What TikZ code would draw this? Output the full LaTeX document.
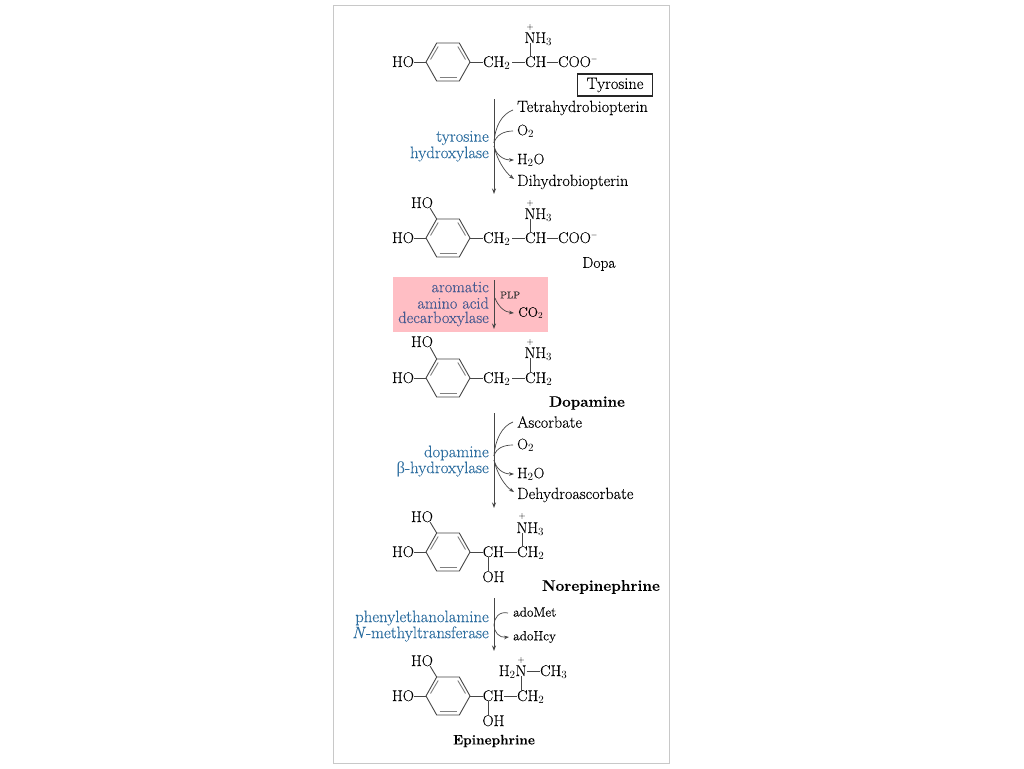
\documentclass[tikz,border=0pt]{standalone}
\usepackage{fontspec}
\setmainfont{Latin Modern Roman}[FakeBold=0.2]
\usetikzlibrary{arrows.meta}
\newfontfamily\grkfont{Liberation Serif}
\definecolor{enzblue}{RGB}{45,110,160}
\definecolor{enzpink}{RGB}{70,90,145}
\definecolor{pinkbg}{RGB}{255,190,196}
\definecolor{framegray}{RGB}{200,200,200}
\definecolor{bondgray}{RGB}{70,70,70}
\newcommand{\fsz}[1]{\fontsize{#1}{#1}\selectfont}
\tikzset{
  x=1pt,y=-1pt,
  atomtxt/.style={inner sep=0pt,text height=10pt,text depth=0pt,font=\fsz{15.5},text=black},
  plustxt/.style={inner sep=0pt,font=\fsz{8},text=black!70},
  bondln/.style={draw=bondgray,line width=0.9pt},
  dblln/.style={draw=gray,line width=0.9pt},
  coftxt/.style={inner sep=0pt,anchor=west,font=\fsz{16.2},text=black},
  cofsim/.style={inner sep=0pt,anchor=west,font=\fsz{15},text=black},
  cofsmall/.style={inner sep=0pt,anchor=west,font=\fsz{13.3},text=black},
  enztxt/.style={inner sep=0pt,anchor=east,font=\fsz{16.7},text=enzblue},
  enzpinktxt/.style={inner sep=0pt,anchor=east,font=\fsz{16.3},text=enzpink},
  moltxt/.style={inner sep=0pt,font=\bfseries\fsz{15.2},text=black},
  mainarr/.style={draw=bondgray,line width=0.8pt,-{Stealth[length=5.5pt,width=4pt]}},
  curvln/.style={draw=bondgray,line width=0.7pt},
  curvarr/.style={draw=bondgray,line width=0.7pt,-{Stealth[length=5pt,width=3.6pt]}}
}
\newcommand{\Ring}[3]{%
  \begin{scope}[shift={(#2,#3)}]
    \coordinate (#1ul) at (-11.3,-19);
    \coordinate (#1l) at (-22,0);
    \coordinate (#1r) at (22,0);
    \draw[bondln,line join=round] (#1ul) -- (11.3,-19) -- (#1r) -- (11.3,19) -- (-11.3,19) -- (#1l) -- cycle;
    \draw[dblln] (-17.5,-2.5) -- (-9.8,-15.5);
    \draw[dblln] (17.5,-2.5) -- (9.8,-15.5);
    \draw[dblln] (-8.5,15.8) -- (8.5,15.8);
  \end{scope}}
\begin{document}
\begin{tikzpicture}
\useasboundingbox (0,0) rectangle (1024,768);
\fill[white] (0,0) rectangle (1024,768);
\draw[framegray,line width=1pt,fill=white] (333,6) rectangle (669,763);
\fill[pinkbg] (393,277) rectangle (548,332);

% Tyrosine
\Ring{a}{448}{62}
\node[atomtxt] (aho) at (403,62) {HO};
\node[atomtxt,anchor=west] (ach2) at (483,62) {CH$_2$};
\node[atomtxt,anchor=west] (ach) at (525,62) {CH};
\node[atomtxt,anchor=west] (acoo) at (558,62) {COO\rlap{$^{\scriptscriptstyle -}$}};
\node[atomtxt] (an) at (530,38) {N\rlap{H$_3$}};
\node[plustxt] (ap) at (530,27) {+};
\draw[bondln] (aho.east) -- (al);
\draw[bondln] (ar) -- (ach2.west);
\draw[bondln] ([xshift=2pt]ach2.east) -- (ach.west);
\draw[bondln] (ach.east) -- (acoo.west);
\draw[bondln] (an.south) -- (an.south |- ach.north);
\node[draw=black!85,line width=1.3pt,minimum width=75pt,minimum height=22pt,inner sep=0pt,font=\fsz{16.4},text=black] (tyr) at (615,85) {Tyrosine};

% Step 1
\coordinate (s1a) at (494,99);
\coordinate (s1b) at (494,194);
\draw[mainarr] (s1a) -- (s1b);
\coordinate (s1i) at (494,143);
\coordinate (s1o) at (494,146);
\node[coftxt] (c1a) at (517,108) {Tetrahydrobiopterin};
\node[cofsim] (c1b) at (517,131) {O$_2$};
\node[cofsim] (c1c) at (517,160) {H$_2$O};
\node[coftxt] (c1d) at (517,182) {Dihydrobiopterin};
\draw[curvln] ([xshift=-4pt,yshift=-2pt]c1a.west) .. controls (502,114) and (495,126) .. (s1i);
\draw[curvln] ([xshift=-4pt]c1b.west) .. controls (504,131) and (496,135) .. (s1i);
\draw[curvarr] (s1o) .. controls (496,155) and (503,160) .. ([xshift=-3pt]c1c.west);
\draw[curvarr] (s1o) .. controls (497,160) and (505,172) .. ([xshift=-3pt,yshift=3pt]c1d.west);
\node[enztxt] (e1a) at (489,138) {tyrosine};
\node[enztxt] (e1b) at (489,154) {hydroxylase};

% Dopa
\Ring{b}{448}{238}
\node[atomtxt] (bho) at (403,238) {HO};
\node[atomtxt] (bhot) at (422,203) {HO};
\node[atomtxt,anchor=west] (bch2) at (483,238) {CH$_2$};
\node[atomtxt,anchor=west] (bch) at (525,238) {CH};
\node[atomtxt,anchor=west] (bcoo) at (558,238) {COO\rlap{$^{\scriptscriptstyle -}$}};
\node[atomtxt] (bn) at (530,214) {N\rlap{H$_3$}};
\node[plustxt] (bp) at (530,203) {+};
\draw[bondln] (bho.east) -- (bl);
\draw[bondln] ([xshift=-3pt]bhot.south east) -- (bul);
\draw[bondln] (br) -- (bch2.west);
\draw[bondln] ([xshift=2pt]bch2.east) -- (bch.west);
\draw[bondln] (bch.east) -- (bcoo.west);
\draw[bondln] (bn.south) -- (bn.south |- bch.north);
\node[inner sep=0pt,font=\fsz{15.5},text=black] (dopa) at (599,264) {Dopa};

% Step 2
\coordinate (s2a) at (494,280);
\coordinate (s2b) at (494,329);
\draw[mainarr] (s2a) -- (s2b);
\coordinate (s2o) at (495,298);
\node[enzpinktxt] (e2a) at (489,287) {aromatic};
\node[enzpinktxt] (e2b) at (489,303) {amino acid};
\node[enzpinktxt] (e2c) at (489,319) {decarboxylase};
\node[inner sep=0pt,anchor=west,font=\fsz{10},text=black!80] (plp) at (500,295) {PLP};
\node[coftxt,font=\fsz{13.5}] (co2) at (518,313) {CO$_2$};
\draw[curvarr] (s2o) .. controls (498,306) and (504,312) .. ([xshift=-4pt]co2.west);

% Dopamine
\Ring{c}{448}{378}
\node[atomtxt] (cho) at (403,378) {HO};
\node[atomtxt] (chot) at (422,342) {HO};
\node[atomtxt,anchor=west] (cch2) at (483,378) {CH$_2$};
\node[atomtxt,anchor=west] (cch) at (525,378) {CH$_2$};
\node[atomtxt] (cn) at (530,353) {N\rlap{H$_3$}};
\node[plustxt] (cp) at (530,342) {+};
\draw[bondln] (cho.east) -- (cl);
\draw[bondln] ([xshift=-3pt]chot.south east) -- (cul);
\draw[bondln] (cr) -- (cch2.west);
\draw[bondln] ([xshift=2pt]cch2.east) -- (cch.west);
\draw[bondln] (cn.south) -- (cn.south |- cch.north);
\node[moltxt] (dopamine) at (587,403) {Dopamine};

% Step 3
\coordinate (s3a) at (494,413);
\coordinate (s3b) at (494,508);
\draw[mainarr] (s3a) -- (s3b);
\coordinate (s3i) at (494,456);
\coordinate (s3o) at (494,460);
\node[coftxt] (c3a) at (517,422) {Ascorbate};
\node[cofsim] (c3b) at (517,445) {O$_2$};
\node[cofsim] (c3c) at (517,474) {H$_2$O};
\node[coftxt] (c3d) at (517,495) {Dehydroascorbate};
\draw[curvln] ([xshift=-4pt]c3a.west) .. controls (502,426) and (495,440) .. (s3i);
\draw[curvln] ([xshift=-4pt]c3b.west) .. controls (504,445) and (496,448) .. (s3i);
\draw[curvarr] (s3o) .. controls (496,469) and (503,474) .. ([xshift=-3pt]c3c.west);
\draw[curvarr] (s3o) .. controls (497,474) and (505,486) .. ([xshift=-3pt,yshift=3pt]c3d.west);
\node[enztxt] (e3a) at (489,453) {dopamine};
\node[enztxt] (e3b) at (489,469) {{\grkfont β}-hydroxylase};

% Norepinephrine
\Ring{d}{448}{552}
\node[atomtxt] (dho) at (403,552) {HO};
\node[atomtxt] (dhot) at (422,517) {HO};
\node[atomtxt] (dch) at (488,552) {C\rlap{H}};
\node[atomtxt,anchor=west] (dch2) at (517,552) {C\rlap{H$_2$}};
\node[atomtxt] (dn) at (522,528) {N\rlap{H$_3$}};
\node[plustxt] (dp) at (522,516) {+};
\node[atomtxt] (doh) at (488,577) {O\rlap{H}};
\draw[bondln] (dho.east) -- (dl);
\draw[bondln] ([xshift=-3pt]dhot.south east) -- (dul);
\draw[bondln] (dr) -- (dch.west);
\draw[bondln] ([xshift=11pt]dch.east) -- (dch2.west);
\draw[bondln] (dn.south) -- (dn.south |- dch2.north);
\draw[bondln] (dch.south) -- (dch.south |- doh.north);
\node[moltxt,font=\bfseries\fsz{15.4}] (nor) at (601,587) {Norepinephrine};

% Step 4
\coordinate (s4a) at (494,598);
\coordinate (s4b) at (494,651);
\coordinate (s4m) at (494,625);
\draw[mainarr] (s4a) -- (s4b);
\node[cofsmall] (c4a) at (513,612) {adoMet};
\node[cofsmall] (c4b) at (513,637) {adoHcy};
\draw[curvarr] ([xshift=-5pt,yshift=-1pt]c4a.west) .. controls (499,611) and (494,618) .. (s4m) .. controls (494,632) and (499,638) .. ([xshift=-4pt]c4b.west);
\node[enztxt] (e4a) at (489,618) {phenylethanolamine};
\node[enztxt] (e4b) at (489,634) {\textit{N}-methyltransferase};

% Epinephrine
\Ring{f}{448}{696}
\node[atomtxt] (fho) at (403,696) {HO};
\node[atomtxt] (fhot) at (422,661) {HO};
\node[atomtxt] (fch) at (488,696) {C\rlap{H}};
\node[atomtxt,anchor=west] (fch2) at (517,696) {C\rlap{H$_2$}};
\node[atomtxt] (fn) at (521,671) {\llap{H$_2$}N};
\node[atomtxt,anchor=west] (fch3) at (540,671) {CH$_3$};
\node[plustxt] (fp) at (521,660) {+};
\node[atomtxt] (foh) at (488,721) {O\rlap{H}};
\draw[bondln] (fho.east) -- (fl);
\draw[bondln] ([xshift=-3pt]fhot.south east) -- (ful);
\draw[bondln] (fr) -- (fch.west);
\draw[bondln] ([xshift=11pt]fch.east) -- (fch2.west);
\draw[bondln] (fn.south) -- (fn.south |- fch2.north);
\draw[bondln] (fn.east) -- (fch3.west);
\draw[bondln] (fch.south) -- (fch.south |- foh.north);
\node[moltxt,font=\bfseries\fsz{13.7}] (epi) at (494,741) {Epinephrine};
\end{tikzpicture}
\end{document}
